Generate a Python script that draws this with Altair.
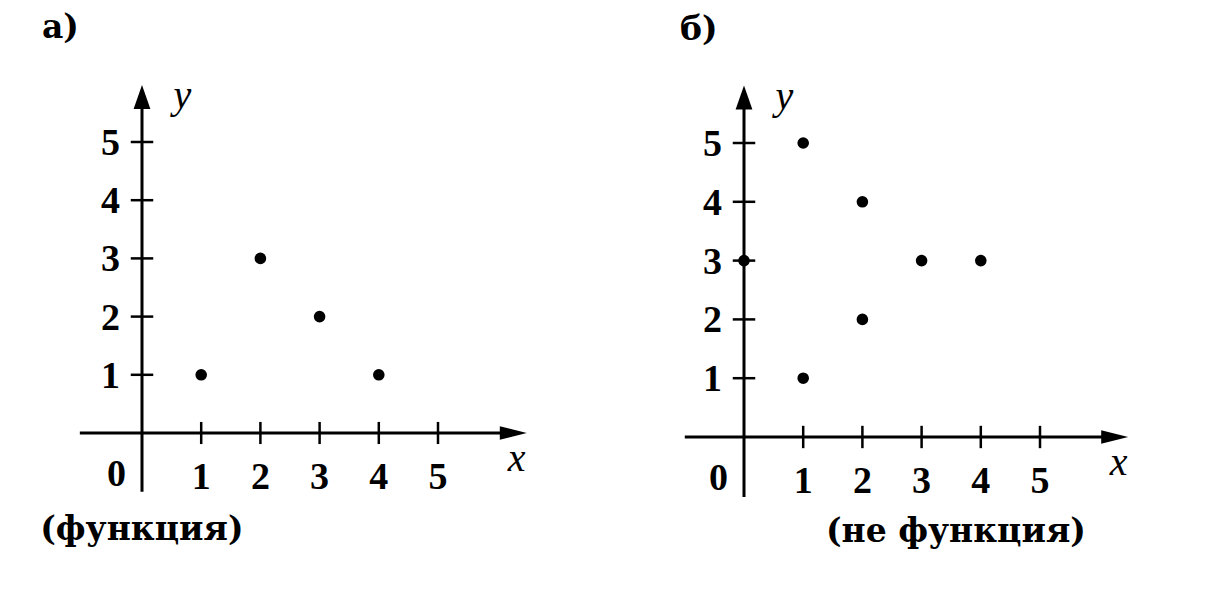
import altair as alt
import pandas as pd

# ---------------- data ----------------
TICKS = [1, 2, 3, 4, 5]
A_X = [1, 2, 3, 4]
A_Y = [1, 3, 2, 1]
B_X = [0, 1, 1, 2, 2, 3, 4]
B_Y = [3, 5, 1, 4, 2, 3, 3]
LETTERS = ["а)", "б)"]
CAPTIONS = ["(функция)", "(не функция)"]

FONT = "Liberation Serif"
TFONT = "DejaVu Serif"
FS = 38
TFS = 33
W, H = 600, 575
TK = 0.19  # half tick length (units)


def panel(px, py, yrange, letter, letter_pos, caption, cap_pos, cap_align, x_ext, y_ext):
    xs = alt.Scale(domain=[0, 5], range=[134, 430], nice=False, zero=False)
    ys = alt.Scale(domain=[0, 5], range=yrange, nice=False, zero=False)
    X = lambda f: alt.X(f, type="quantitative", scale=xs, axis=None)
    Y = lambda f: alt.Y(f, type="quantitative", scale=ys, axis=None)

    axes = pd.DataFrame({"x": [x_ext[0], 0], "x2": [x_ext[1] - 0.2, 0],
                         "y": [0, y_ext[0]], "y2": [0, y_ext[1] - 0.2]})
    axis_lines = alt.Chart(axes).mark_rule(color="black", strokeWidth=3).encode(
        x=X("x"), x2="x2", y=Y("y"), y2="y2")

    xarrow = alt.Chart(pd.DataFrame({"x": [x_ext[1]], "y": [0]})).mark_point(
        shape="M 0 0 L -2 -0.5 L -2 0.5 Z", size=729, filled=True, opacity=1,
        color="black", strokeWidth=0).encode(x=X("x"), y=Y("y"))
    yarrow = alt.Chart(pd.DataFrame({"x": [0], "y": [y_ext[1]]})).mark_point(
        shape="M 0 0 L -0.7 2 L 0.7 2 Z", size=576, filled=True, opacity=1,
        color="black", strokeWidth=0).encode(x=X("x"), y=Y("y"))

    tdf = pd.DataFrame({"t": TICKS, "lo": [-TK] * 5, "hi": [TK] * 5, "z": [0] * 5})
    xticks = alt.Chart(tdf).mark_rule(color="black", strokeWidth=2.5).encode(
        x=X("t"), y=Y("lo"), y2="hi")
    yticks = alt.Chart(tdf).mark_rule(color="black", strokeWidth=2.5).encode(
        y=Y("t"), x=X("lo"), x2="hi")

    xlabels = alt.Chart(tdf).mark_text(
        font=FONT, fontSize=FS, fontWeight="bold", align="center",
        baseline="alphabetic", dy=56, color="black").encode(
        x=X("t"), y=Y("z"), text=alt.Text("t:Q"))
    ylabels = alt.Chart(tdf).mark_text(
        font=FONT, fontSize=FS, fontWeight="bold", align="right",
        baseline="alphabetic", dx=-22, dy=13, color="black").encode(
        x=X("z"), y=Y("t"), text=alt.Text("t:Q"))
    zero = alt.Chart(pd.DataFrame({"v": [0]})).mark_text(
        font=FONT, fontSize=FS, fontWeight="bold", align="right",
        baseline="alphabetic", dx=-16, dy=53, color="black").encode(
        x=X("v"), y=Y("v"), text=alt.Text("v:Q"))

    names = pd.DataFrame({"x": [6.33, 0.68], "y": [0, 5.58], "n": ["x", "y"]})
    name_x = alt.Chart(names.iloc[[0]]).mark_text(
        font=FONT, fontSize=40, fontStyle="italic", align="center",
        baseline="alphabetic", dy=38, color="black").encode(
        x=X("x"), y=Y("y"), text="n:N")
    name_y = alt.Chart(names.iloc[[1]]).mark_text(
        font=FONT, fontSize=40, fontStyle="italic", align="center",
        baseline="alphabetic", color="black").encode(
        x=X("x"), y=Y("y"), text="n:N")

    pts = alt.Chart(pd.DataFrame({"x": px, "y": py})).mark_circle(
        size=135, opacity=1, color="black").encode(x=X("x"), y=Y("y"))

    let = alt.Chart(pd.DataFrame({"x": [letter_pos[0]], "y": [letter_pos[1]],
                                  "s": [letter]})).mark_text(
        font=TFONT, fontSize=TFS, fontWeight="bold", align="left",
        baseline="alphabetic", color="black").encode(x=X("x"), y=Y("y"), text="s:N")
    cap = alt.Chart(pd.DataFrame({"x": [cap_pos[0]], "y": [cap_pos[1]],
                                  "s": [caption]})).mark_text(
        font=TFONT, fontSize=TFS, fontWeight="bold", align=cap_align,
        baseline="alphabetic", color="black").encode(x=X("x"), y=Y("y"), text="s:N")

    return alt.layer(axis_lines, xticks, yticks, xarrow, yarrow, xlabels, ylabels,
                     zero, name_x, name_y, pts, let, cap).properties(width=W, height=H)


left = panel(A_X, A_Y, [425, 134], LETTERS[0], (-1.69, 6.79), CAPTIONS[0],
             (-1.72, -1.84), "left", (-1.05, 6.5), (-1.01, 5.98))
right = panel(B_X, B_Y, [429, 135], LETTERS[1], (-1.08, 6.75), CAPTIONS[1],
              (3.58, -1.79), "center", (-1.0, 6.49), (-1.02, 5.98))

chart = alt.hconcat(left, right, spacing=2).properties(
    padding=0, background="white").configure_view(strokeWidth=0, stroke=None)

chart.save("out.html", embed_options={"renderer": "svg", "actions": False})
